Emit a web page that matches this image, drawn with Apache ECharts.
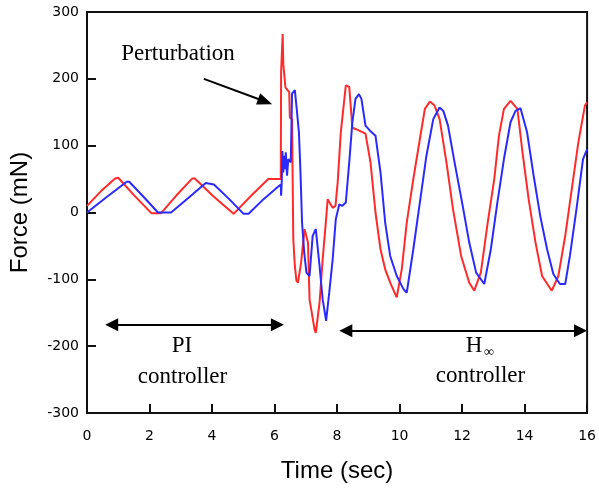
<!DOCTYPE html>
<html>
<head>
<meta charset="utf-8">
<script src="https://cdn.jsdelivr.net/npm/echarts@6/dist/echarts.min.js"></script>
<style>
html,body{margin:0;padding:0;background:#fff;}
#chart{width:599px;height:489px;}
</style>
</head>
<body>
<div id="chart"></div>
<script>
// ---- data ----
var xTicks = [0, 2, 4, 6, 8, 10, 12, 14, 16];
var yTicks = [-300, -200, -100, 0, 100, 200, 300];

var redTime = [0, 0.45, 0.9, 1.0, 1.5, 2.06, 2.37, 2.85, 3.37, 3.45, 4.05, 4.69, 5.25, 5.8, 6.20,
  6.21, 6.25, 6.26, 6.28, 6.33, 6.35, 6.47, 6.49, 6.56, 6.60, 6.65, 6.70, 6.75, 6.85, 6.96, 7.07,
  7.12, 7.28, 7.32, 7.44, 7.54, 7.65, 7.70, 7.76, 7.86, 7.95, 8.02, 8.12, 8.28, 8.33, 8.39, 8.49,
  8.59, 8.91, 9.07, 9.23, 9.39, 9.54, 9.70, 9.91, 10.07, 10.23, 10.44, 10.65, 10.81, 10.97, 11.12,
  11.28, 11.50, 11.71, 11.97, 12.23, 12.39, 12.60, 12.82, 13.03, 13.18, 13.34, 13.55, 13.77, 13.92,
  14.13, 14.35, 14.56, 14.87, 15.08, 15.30, 15.51, 15.72, 15.93, 16.0];
var redForce = [10, 32, 51, 52, 26, -1, -1, 25, 51, 51, 24, -2, 25, 50, 50,
  210, 212, 267, 222, 220, 187, 180, 142, 140, -40, -80, -102, -105, -75, -25, -45,
  -130, -175, -180, -135, -70, -10, 20, 15, 7, 10, 45, 120, 190, 192, 188, 127,
  125, 118, 75, 0, -55, -85, -105, -127, -85, -15, 50, 110, 155, 166, 160,
  140, 75, 5, -65, -105, -117, -90, -15, 50, 115, 155, 167, 155, 95,
  20, -45, -95, -117, -95, -35, 35, 105, 160, 165];

var blueTime = [0, 0.6, 1.27, 1.35, 1.8, 2.27, 2.69, 3.25, 3.8, 4.06, 4.55, 5.01, 5.17, 5.65, 6.12,
  6.20, 6.21, 6.23, 6.25, 6.28, 6.30, 6.33, 6.36, 6.40, 6.44, 6.52, 6.56, 6.65, 6.72, 6.78, 6.83,
  6.88, 6.95, 7.02, 7.12, 7.22, 7.32, 7.44, 7.54, 7.65, 7.75, 7.86, 7.96, 8.07, 8.17, 8.28, 8.39,
  8.49, 8.59, 8.70, 8.78, 8.91, 9.06, 9.23, 9.39, 9.54, 9.70, 9.91, 10.13, 10.23, 10.44, 10.65,
  10.86, 11.08, 11.28, 11.40, 11.55, 11.76, 12.02, 12.23, 12.45, 12.71, 12.92, 13.13, 13.34, 13.55,
  13.71, 13.87, 14.08, 14.29, 14.50, 14.72, 14.92, 15.13, 15.30, 15.45, 15.66, 15.87, 16.0];
var blueForce = [0, 22, 46, 46, 24, 0, 0, 22, 44, 42, 20, -2, -2, 20, 39,
  42, 25, 45, 92, 60, 85, 65, 90, 55, 80, 75, 178, 183, 150, 120, 60,
  -15, -60, -90, -95, -35, -25, -80, -130, -162, -120, -70, -10, 12, 10, 15, 75,
  135, 170, 177, 170, 130, 122, 115, 60, -15, -65, -95, -115, -120, -55, 15,
  85, 140, 157, 152, 130, 75, 10, -45, -90, -107, -55, 15, 80, 135,
  152, 156, 120, 55, -5, -55, -92, -107, -107, -65, 5, 80, 95];

function zip(a, b) { return a.map(function (x, i) { return [x, b[i]]; }); }

var chart = echarts.init(document.getElementById('chart'), null, {renderer: 'canvas'});
var serif = '"Liberation Serif", "Times New Roman", serif';
var arrowStyle = {color: '#000', width: 2, type: 'solid'};

var option = {
  animation: false,
  backgroundColor: '#fff',
  grid: {left: 87, right: 7, top: 12, bottom: 76, show: true, borderColor: '#111', borderWidth: 2, containLabel: false},
  xAxis: {
    type: 'value', min: xTicks[0], max: xTicks[xTicks.length - 1], interval: 2,
    name: 'Time (sec)', nameLocation: 'middle', nameGap: 46,
    nameTextStyle: {fontFamily: '"Liberation Sans", Arial, sans-serif', fontSize: 24, color: '#000'},
    axisLine: {show: true, onZero: false, lineStyle: {color: '#111', width: 2}},
    axisTick: {show: true, inside: true, length: 9, lineStyle: {color: '#111', width: 2}},
    axisLabel: {fontFamily: '"DejaVu Sans", Verdana, sans-serif', fontSize: 14, color: '#000', margin: 16},
    splitLine: {show: false}
  },
  yAxis: {
    type: 'value', min: yTicks[0], max: yTicks[yTicks.length - 1], interval: 100,
    name: 'Force (mN)', nameLocation: 'middle', nameGap: 55,
    nameTextStyle: {fontFamily: '"Liberation Sans", Arial, sans-serif', fontSize: 24, color: '#000'},
    axisLine: {show: true, onZero: false, lineStyle: {color: '#111', width: 2}},
    axisTick: {show: true, inside: true, length: 9, lineStyle: {color: '#111', width: 2}},
    axisLabel: {fontFamily: '"DejaVu Sans", Verdana, sans-serif', fontSize: 14, color: '#000', margin: 8},
    splitLine: {show: false}
  },
  series: [
    {
      name: 'red', type: 'line', data: zip(redTime, redForce), showSymbol: false, symbol: 'none',
      lineStyle: {color: '#ff2a2a', width: 2}, z: 3
    },
    {
      name: 'blue', type: 'line', data: zip(blueTime, blueForce), showSymbol: false, symbol: 'none',
      lineStyle: {color: '#2a2aff', width: 2}, z: 4
    },
    {
      name: 'annotations', type: 'line', data: [], silent: true,
      markLine: {
        silent: true, animation: false,
        symbol: ['triangle', 'triangle'], symbolSize: [13, 13],
        label: {show: false},
        lineStyle: arrowStyle,
        emphasis: {disabled: true},
        data: [
          [{coord: [0.79, -168]}, {coord: [6.09, -168]}],
          [{coord: [8.28, -177]}, {coord: [15.79, -177]}],
          [{coord: [3.74, 200], symbol: 'none'}, {coord: [5.70, 166], symbol: 'triangle', symbolSize: [12, 15]}]
        ]
      }
    }
  ],
  graphic: [
    {type: 'text', style: {text: 'Perturbation', font: '23px ' + serif, fill: '#000', x: 178, y: 54, align: 'center', verticalAlign: 'middle'}},
    {type: 'text', style: {text: 'PI', font: '23px ' + serif, fill: '#000', x: 182, y: 346, align: 'center', verticalAlign: 'middle'}},
    {type: 'text', style: {text: 'controller', font: '23px ' + serif, fill: '#000', x: 182.5, y: 377, align: 'center', verticalAlign: 'middle'}},
    {type: 'text', style: {text: 'H', font: '23px ' + serif, fill: '#000', x: 474, y: 346, align: 'center', verticalAlign: 'middle'}},
    {type: 'text', style: {text: '\u221e', font: '14px ' + serif, fill: '#000', x: 489, y: 352, align: 'center', verticalAlign: 'middle'}},
    {type: 'text', style: {text: 'controller', font: '23px ' + serif, fill: '#000', x: 480.5, y: 376, align: 'center', verticalAlign: 'middle'}}
  ]
};
chart.setOption(option);
</script>
</body>
</html>
